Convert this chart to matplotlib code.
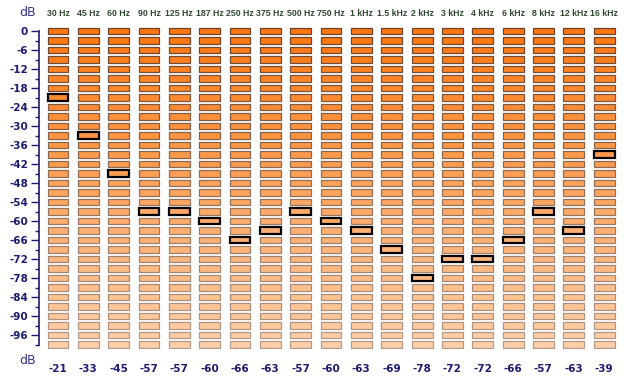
import matplotlib
matplotlib.use("Agg")
import matplotlib.pyplot as plt
import numpy as np
from matplotlib.patches import Rectangle
from matplotlib.colors import to_rgb

bands = ['30 Hz', '45 Hz', '60 Hz', '90 Hz', '125 Hz', '187 Hz', '250 Hz', '375 Hz',
         '500 Hz', '750 Hz', '1 kHz', '1.5 kHz', '2 kHz', '3 kHz', '4 kHz', '6 kHz',
         '8 kHz', '12 kHz', '16 kHz']
levels = [-21, -33, -45, -57, -57, -60, -66, -63, -57, -60, -63, -69, -78, -72, -72,
          -66, -57, -63, -39]
rows_db = list(range(0, -100, -3))
major_ticks = list(range(0, -97, -6))

navy = '#1c1c6e'
fill_top, fill_bot = np.array(to_rgb('#ff7710')), np.array(to_rgb('#ffcfa8'))
edge_top, edge_bot = np.array(to_rgb('#6a4428')), np.array(to_rgb('#b39a88'))

fig = plt.figure(figsize=(6.4, 3.8), dpi=100)
ax = fig.add_axes([39 / 640, 1 - 349.25 / 380, (625 - 39) / 640, (349.25 - 26.25) / 380])
ax.set_xlim(-0.626, 18.69)
ax.set_ylim(-100.5, 1.5)

w, h = 0.69, 2.2
n = len(rows_db)
for i, lvl in enumerate(levels):
    for k, db in enumerate(rows_db):
        t = k / (n - 1)
        fc = fill_top * (1 - t) + fill_bot * t
        ec = edge_top * (1 - t) + edge_bot * t
        hit = db == lvl
        ax.add_patch(Rectangle((i - w / 2, db - h / 2), w, h, facecolor=fc,
                               edgecolor='black' if hit else ec,
                               linewidth=1.6 if hit else 0.9, zorder=3 if hit else 2))
    ax.text(i, 1.025, bands[i], transform=ax.get_xaxis_transform(), ha='center',
            va='bottom', fontsize=6.3, fontweight='bold', color='#2f4a2f',
            family='Liberation Sans')
    ax.text(i, -0.06, str(lvl), transform=ax.get_xaxis_transform(), ha='center',
            va='center', fontsize=7.5, fontweight='bold', color=navy)

for s in ['top', 'right', 'bottom']:
    ax.spines[s].set_visible(False)
ax.spines['left'].set_bounds(-99, 0)
ax.spines['left'].set_color(navy)
ax.spines['left'].set_linewidth(1.2)
ax.set_xticks([])
ax.set_yticks(major_ticks)
ax.set_yticklabels([str(v) for v in major_ticks])
ax.set_yticks(rows_db, minor=True)
ax.tick_params(axis='y', which='major', length=6, width=1, color=navy,
               labelcolor=navy, labelsize=7.5, pad=2)
ax.tick_params(axis='y', which='minor', length=3, width=1, color=navy)
for lb in ax.get_yticklabels():
    lb.set_fontweight('bold')

fig.text(28 / 640, 1 - 13 / 380, 'dB', ha='center', va='center', fontsize=9, color='#33338a')
fig.text(28 / 640, 1 - 360 / 380, 'dB', ha='center', va='center', fontsize=9, color='#33338a')

fig.savefig('out.png', dpi=100, facecolor='white')
